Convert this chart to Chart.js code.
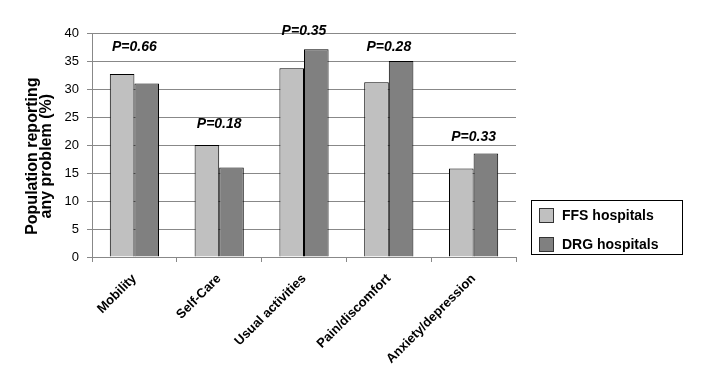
<!DOCTYPE html>
<html>
<head>
<meta charset="utf-8">
<script src="https://cdn.jsdelivr.net/npm/chart.js@4/dist/chart.umd.min.js"></script>
<style>
    body { margin: 0; background: #fff; }
    #wrap { position: relative; width: 710px; height: 380px; }
    #legend {
        position: absolute; left: 531px; top: 200px; width: 150px; height: 53px;
        border: 1px solid #000; font: bold 14px Arial, "Liberation Sans", sans-serif; color: #000;
    }
    .item { position: absolute; left: 7px; height: 15px; line-height: 15px; }
    .item span { display: inline-block; width: 13px; height: 13px; border: 1px solid #333; vertical-align: top; margin-right: 8px; }
</style>
</head>
<body>
<div id="wrap">
    <canvas id="chart" width="710" height="380"></canvas>
    <div id="legend">
        <div class="item" style="top:7px"><span style="background:#c0c0c0"></span>FFS hospitals</div>
        <div class="item" style="top:36px"><span style="background:#808080"></span>DRG hospitals</div>
    </div>
</div>
<script>
const categories = ['Mobility', 'Self-Care', 'Usual activities', 'Pain/discomfort', 'Anxiety/depression'];
const ffsValues = [32.7, 20.0, 33.7, 31.2, 15.8];
const drgValues = [31.0, 16.0, 37.1, 35.0, 18.5];
const pValues = ['P=0.66', 'P=0.18', 'P=0.35', 'P=0.28', 'P=0.33'];
const pLabelY = [37.4, 23.8, 40.4, 37.5, 21.4];
const yTicks = [0, 5, 10, 15, 20, 25, 30, 35, 40];
const yTitle = ['Population reporting', 'any problem (%)'];

const FONT = 'Arial, "Liberation Sans", sans-serif';

// P value labels above each group, plus the y axis title (sits a bit below centre in the original)
const labelPlugin = {
    id: 'extraLabels',
    afterDatasetsDraw(chart) {
        const ctx = chart.ctx;
        const x = chart.scales.x, y = chart.scales.y;
        ctx.save();
        ctx.font = 'italic bold 14px ' + FONT;
        ctx.fillStyle = '#000';
        ctx.textAlign = 'center';
        ctx.textBaseline = 'middle';
        pValues.forEach((p, i) => {
            ctx.fillText(p, x.getPixelForValue(i), y.getPixelForValue(pLabelY[i]));
        });

        ctx.font = 'bold 16px ' + FONT;
        ctx.translate(33, y.getPixelForValue(18));
        ctx.rotate(-Math.PI / 2);
        yTitle.forEach((line, i) => ctx.fillText(line, 0, i * 13.5));
        ctx.restore();
    }
};

new Chart(document.getElementById('chart'), {
    type: 'bar',
    data: {
        labels: categories,
        datasets: [{
            label: 'FFS hospitals',
            data: ffsValues,
            backgroundColor: '#c0c0c0',
            borderColor: '#000',
            borderWidth: 1
        }, {
            label: 'DRG hospitals',
            data: drgValues,
            backgroundColor: '#808080',
            borderColor: '#000',
            borderWidth: 1
        }]
    },
    options: {
        responsive: false,
        animation: false,
        categoryPercentage: 0.58,
        barPercentage: 1,
        layout: { padding: { top: 33, right: 194, left: 0, bottom: 0 } },
        plugins: {
            legend: { display: false },
            tooltip: { enabled: false }
        },
        scales: {
            x: {
                grid: { drawOnChartArea: false, color: '#888', tickLength: 5 },
                border: { color: '#888' },
                ticks: {
                    color: '#000',
                    font: { family: FONT, size: 13, weight: 'bold' },
                    minRotation: 45, maxRotation: 45,
                    padding: 9
                },
                afterFit: (scale) => { scale.height = 123; }
            },
            y: {
                min: 0, max: 40,
                afterBuildTicks: (scale) => { scale.ticks = yTicks.map(v => ({ value: v })); },
                grid: { color: '#888', tickLength: 5 },
                border: { color: '#888' },
                ticks: {
                    color: '#000',
                    font: { family: FONT, size: 13 },
                    padding: 8
                },
                afterFit: (scale) => { scale.width = 92; }
            }
        }
    },
    plugins: [labelPlugin]
});
</script>
</body>
</html>
